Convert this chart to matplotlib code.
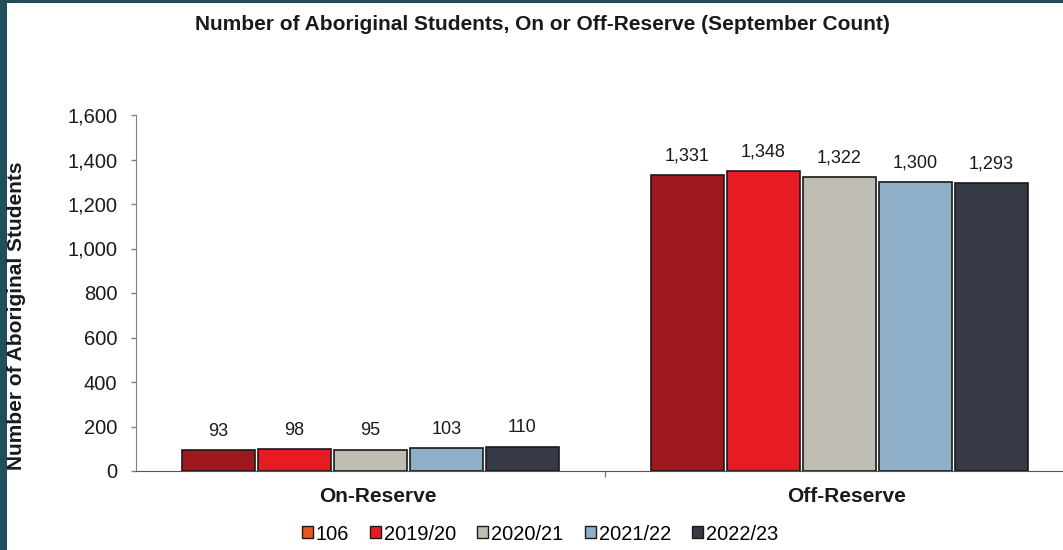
import matplotlib
matplotlib.use("Agg")
import matplotlib.pyplot as plt
from matplotlib.patches import Patch, Rectangle
from matplotlib.transforms import offset_copy

plt.rcParams['font.family'] = ['Liberation Sans', 'DejaVu Sans']

categories = ["On-Reserve", "Off-Reserve"]
series_labels = ["106", "2019/20", "2020/21", "2021/22", "2022/23"]
values = {
    "106":     [93, 1331],
    "2019/20": [98, 1348],
    "2020/21": [95, 1322],
    "2021/22": [103, 1300],
    "2022/23": [110, 1293],
}
bar_colors = ["#9E181D", "#E61B24", "#C0BDB5", "#8EAFC7", "#363A46"]
legend_colors = ["#E8561E", "#E61B24", "#C0BDB5", "#8EAFC7", "#363A46"]
y_ticks = [0, 200, 400, 600, 800, 1000, 1200, 1400, 1600]

W, H = 1063, 550
fig = plt.figure(figsize=(W / 100, H / 100), dpi=100)
fig.patch.set_facecolor("white")

# teal frame
fig.patches.append(Rectangle((0, 0), 7 / W, 1, transform=fig.transFigure,
                             facecolor="#1F4F5B", edgecolor="none", zorder=1))
fig.patches.append(Rectangle((0, 1 - 3 / H), 1, 3 / H, transform=fig.transFigure,
                             facecolor="#1F4F5B", edgecolor="none", zorder=1))

ax = fig.add_axes([136 / W, 79 / H, (1074 - 136) / W, (471 - 115) / H])

pitch = 0.162
width = 0.156
x = list(range(len(categories)))
for i, lab in enumerate(series_labels):
    xs = [xi + (i - 2) * pitch for xi in x]
    bars = ax.bar(xs, values[lab], width=width, color=bar_colors[i],
                  edgecolor="#1a1a1a", linewidth=1.2, zorder=3)
    ax.bar_label(bars, labels=[f"{v:,}" for v in values[lab]], padding=7.5,
                 fontsize=13, color="#1a1a1a")

ax.set_xlim(-0.5, 1.5)
ax.set_ylim(0, 1600)
ax.set_yticks(y_ticks)
ax.set_yticklabels([f"{t:,}" for t in y_ticks], fontsize=14.5, color="#1a1a1a")
ax.set_xticks([0.5])
ax.set_xticklabels([""])
ax.tick_params(axis="y", direction="out", length=3.5, color="#808080", width=1, pad=10)
ax.tick_params(axis="x", direction="out", length=4, color="#808080", width=1)

for s in ["top", "right"]:
    ax.spines[s].set_visible(False)
ax.spines["left"].set_color("#808080")
ax.spines["bottom"].set_color("#555555")

label_tr = offset_copy(ax.get_xaxis_transform(), fig=fig, x=7, y=0, units="dots")
for xi, c in zip(x, categories):
    ax.text(xi, -25 / 356, c, transform=label_tr, ha="center", va="center",
            fontsize=15, fontweight="bold", color="#1a1a1a")

fig.text(17 / W, 1 - 316 / H, "Number of Aboriginal Students", rotation=90,
         ha="center", va="center", fontsize=15, fontweight="bold", color="#1a1a1a",
         zorder=5)

fig.text(542 / W, 1 - 25 / H, "Number of Aboriginal Students, On or Off-Reserve (September Count)",
         ha="center", va="center", fontsize=15, fontweight="bold", color="#1a1a1a")

handles = [Patch(facecolor=legend_colors[i], edgecolor="#1a1a1a", linewidth=1.0)
           for i in range(len(series_labels))]
fig.legend(handles, series_labels, loc="center", bbox_to_anchor=(540 / W, 1 - 534 / H),
           ncol=5, frameon=False, fontsize=14.4, handlelength=0.55, handleheight=0.55,
           handletextpad=0.15, columnspacing=1.05, borderpad=0, borderaxespad=0)

fig.savefig("out.png", dpi=100)
